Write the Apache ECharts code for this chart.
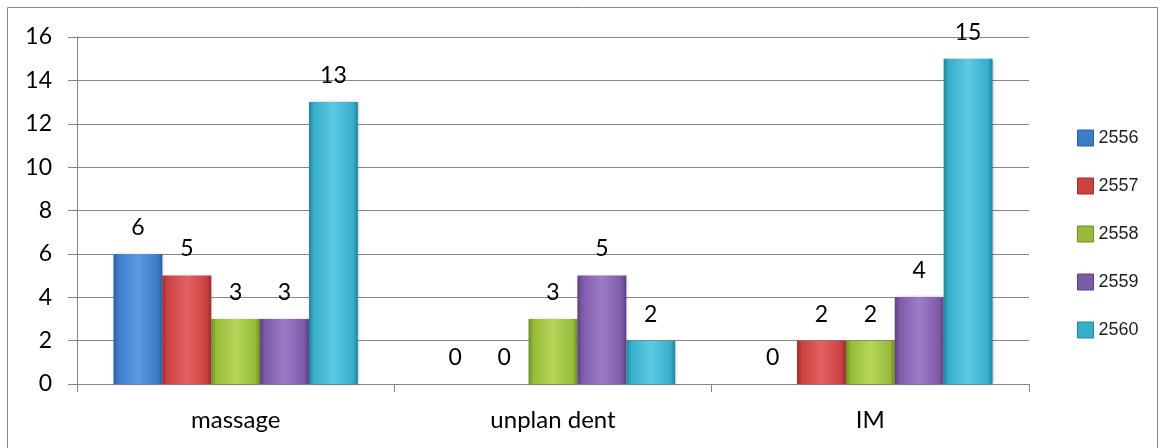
<!DOCTYPE html>
<html>
<head>
<meta charset="utf-8">
<script src="https://cdn.jsdelivr.net/npm/echarts@6/dist/echarts.min.js"></script>
<style>
  html, body { margin: 0; padding: 0; background: #ffffff; }
  #chart { width: 1161px; height: 448px; }
</style>
</head>
<body>
<div id="chart"></div>
<script>
// Categories and yearly counts (Buddhist Era years)
const categories = ['massage', 'unplan dent', 'IM'];
const years = ['2556', '2557', '2558', '2559', '2560'];
const values2556 = [6, 0, 0];
const values2557 = [5, 0, 2];
const values2558 = [3, 3, 2];
const values2559 = [3, 5, 4];
const values2560 = [13, 2, 15];
const yTicks = [0, 2, 4, 6, 8, 10, 12, 14, 16];

const seriesValues = [values2556, values2557, values2558, values2559, values2560];

// base, light and dark shades for each year's bars
const palette = [
  { base: '#3d7cc9', light: '#5d9ae0', dark: '#2b5f9e' },
  { base: '#cc4141', light: '#e26262', dark: '#9c2d2d' },
  { base: '#98bb3b', light: '#b5d65a', dark: '#6f8c27' },
  { base: '#7e5ba9', light: '#9c7cc7', dark: '#5a3f80' },
  { base: '#37aecc', light: '#5dc9e3', dark: '#24829c' }
];

function bevel(c) {
  return {
    type: 'linear', x: 0, y: 0, x2: 1, y2: 0,
    colorStops: [
      { offset: 0, color: c.dark },
      { offset: 0.1, color: c.base },
      { offset: 0.5, color: c.light },
      { offset: 0.9, color: c.base },
      { offset: 1, color: c.dark }
    ]
  };
}

const numFont = 'Lato, "Open Sans", sans-serif';

const chart = echarts.init(document.getElementById('chart'), null, { renderer: 'canvas' });

const series = years.map((y, i) => ({
  name: y,
  type: 'bar',
  data: seriesValues[i],
  barGap: '0%',
  barCategoryGap: '23%',
  itemStyle: {
    color: bevel(palette[i]),
    borderWidth: 0,
    shadowBlur: 3,
    shadowOffsetX: 1,
    shadowOffsetY: 0,
    shadowColor: 'rgba(0,0,0,0.25)'
  },
  label: {
    show: true,
    position: 'top',
    distance: 15,
    color: '#000000',
    fontFamily: numFont,
    fontSize: 23
  }
}));

chart.setOption({
  animation: false,
  backgroundColor: '#ffffff',
  grid: { left: 77, right: 132, top: 37, bottom: 64 },
  legend: {
    orient: 'vertical',
    left: 1072,
    top: 124,
    itemWidth: 16,
    itemHeight: 16,
    itemGap: 30,
    icon: 'rect',
    textStyle: {
      fontFamily: '"Liberation Sans", Arial, sans-serif',
      fontSize: 18,
      color: '#222222'
    },
    data: years.map((y, i) => ({ name: y, itemStyle: { color: palette[i].base, borderColor: palette[i].dark, borderWidth: 1 } }))
  },
  xAxis: {
    type: 'category',
    data: categories,
    axisLine: { show: true, lineStyle: { color: '#868686', width: 1 } },
    axisTick: { show: true, length: 8, lineStyle: { color: '#868686' } },
    axisLabel: {
      margin: 24,
      color: '#000000',
      fontFamily: numFont,
      fontSize: 24
    }
  },
  yAxis: {
    type: 'value',
    min: yTicks[0],
    max: yTicks[yTicks.length - 1],
    interval: 2,
    axisLine: { show: true, lineStyle: { color: '#868686', width: 1 } },
    axisTick: { show: true, length: 9, lineStyle: { color: '#868686' } },
    splitLine: { show: true, lineStyle: { color: '#868686', width: 1 } },
    axisLabel: {
      margin: 25,
      color: '#000000',
      fontFamily: numFont,
      fontSize: 23
    }
  },
  graphic: [{
    type: 'rect',
    shape: { x: 7.5, y: 7.5, width: 1150, height: 445 },
    style: { fill: null, stroke: '#868686', lineWidth: 1 },
    silent: true,
    z: -1
  }],
  series: series
});
</script>
</body>
</html>
